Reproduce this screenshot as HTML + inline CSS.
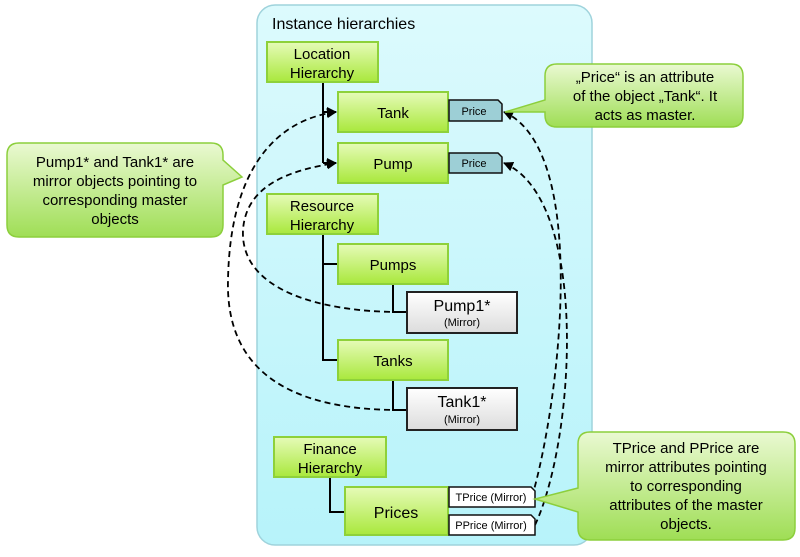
<!DOCTYPE html>
<html><head><meta charset="utf-8"><style>
body{margin:0;width:800px;height:552px;background:#fff;overflow:hidden}
text{font-family:"Liberation Sans",sans-serif}
</style></head><body>
<svg width="800" height="552" viewBox="0 0 800 552" xmlns="http://www.w3.org/2000/svg">
<defs>
<linearGradient id="g" x1="0" y1="0" x2="0" y2="1"><stop offset="0" stop-color="#e6fbb8"/><stop offset="1" stop-color="#a9e83c"/></linearGradient>
<linearGradient id="c" x1="0" y1="0" x2="0" y2="1"><stop offset="0" stop-color="#eaf9d2"/><stop offset="1" stop-color="#9fde55"/></linearGradient>
<linearGradient id="w" x1="0" y1="0" x2="0" y2="1"><stop offset="0" stop-color="#ffffff"/><stop offset="1" stop-color="#dcdcdc"/></linearGradient>
<linearGradient id="p" x1="0" y1="0" x2="0" y2="1"><stop offset="0" stop-color="#dcfafd"/><stop offset="1" stop-color="#b7f3fa"/></linearGradient>
<marker id="a" markerWidth="10" markerHeight="10" refX="9" refY="5" orient="auto" markerUnits="userSpaceOnUse"><path d="M0,0 L10,5 L0,10 z" fill="#000"/></marker>
</defs>
<rect x="257" y="5" width="335" height="540" rx="18" fill="url(#p)" stroke="#9fd3dc" stroke-width="1.5"/>
<text x="272" y="29" font-size="16">Instance hierarchies</text>

<g stroke="#000" stroke-width="2" fill="none">
<path d="M323 82 V163"/>
<path d="M323 112 H336" marker-end="url(#a)"/>
<path d="M323 163 H336" marker-end="url(#a)"/>
<path d="M323 234 V360 H338 M323 264 H338"/>
<path d="M393 284 V312 H407 M393 380 V410 H407"/>
<path d="M330 477 V512 H345"/>
</g>

<g stroke="#000" stroke-width="1.8" fill="none" stroke-dasharray="6,4">
<path d="M400 410 C320 410 225 390 228 280 C230 170 275 120 336 112" marker-end="url(#a)"/>
<path d="M400 312 C320 312 240 290 243 230 C246 185 290 170 336 163" marker-end="url(#a)"/>
<path d="M532 497 C560 400 590 150 504 112" marker-end="url(#a)"/>
<path d="M535 525 C575 440 590 200 504 163" marker-end="url(#a)"/>
</g>

<g stroke="#8ed13a" stroke-width="2" fill="url(#g)">
<rect x="267" y="42" width="111" height="40"/>
<rect x="338" y="92" width="110" height="40"/>
<rect x="338" y="143" width="110" height="40"/>
<rect x="267" y="194" width="111" height="40"/>
<rect x="338" y="244" width="110" height="40"/>
<rect x="338" y="340" width="110" height="40"/>
<rect x="274" y="437" width="112" height="40"/>
<rect x="345" y="487" width="103" height="48"/>
</g>
<g stroke="#222" stroke-width="2" fill="url(#w)">
<rect x="407" y="292" width="110" height="41"/>
<rect x="407" y="388" width="110" height="42"/>
</g>
<g stroke="#111" stroke-width="1.5">
<path d="M449 100 H498 L502 104 V121 H449 Z" fill="#9dcfd6"/>
<path d="M449 153 H498 L502 157 V173 H449 Z" fill="#9dcfd6"/>
<path d="M449 487 H531 L535 491 V507 H449 Z" fill="#fff"/>
<path d="M449 515 H531 L535 519 V535 H449 Z" fill="#fff"/>
</g>
<g font-size="15" text-anchor="middle">
<text x="322" y="59">Location</text><text x="322" y="78">Hierarchy</text>
<text x="393" y="118">Tank</text>
<text x="393" y="169">Pump</text>
<text x="322" y="211">Resource</text><text x="322" y="230">Hierarchy</text>
<text x="393" y="270">Pumps</text>
<text x="393" y="366">Tanks</text>
<text x="330" y="454">Finance</text><text x="330" y="473">Hierarchy</text>
<text x="396" y="518" font-size="16">Prices</text>
<text x="462" y="311" font-size="16">Pump1*</text>
<text x="462" y="407" font-size="16">Tank1*</text>
</g>
<g font-size="11" text-anchor="middle">
<text x="462" y="326">(Mirror)</text>
<text x="462" y="423">(Mirror)</text>
<text x="474" y="115">Price</text>
<text x="474" y="167">Price</text>
<text x="491" y="501">TPrice (Mirror)</text>
<text x="491" y="529">PPrice (Mirror)</text>
</g>

<g stroke="#8ccf3c" stroke-width="1.5" fill="url(#c)">
<path d="M19 143 H211 Q223 143 223 155 V160 L242 177 L223 185 V225 Q223 237 211 237 H19 Q7 237 7 225 V155 Q7 143 19 143 Z"/>
<path d="M557 64 H731 Q743 64 743 76 V115 Q743 127 731 127 H557 Q545 127 545 115 V112 L505 112 L545 100 V76 Q545 64 557 64 Z"/>
<path d="M590 432 H783 Q795 432 795 444 V528 Q795 540 783 540 H590 Q578 540 578 528 V512 L535 499 L578 488 V444 Q578 432 590 432 Z"/>
</g>
<g font-size="15" text-anchor="middle">
<text x="115" y="167">Pump1* and Tank1* are</text>
<text x="115" y="186">mirror objects pointing to</text>
<text x="115" y="205">corresponding master</text>
<text x="115" y="224">objects</text>
<text x="645" y="82">„Price“ is an attribute</text>
<text x="645" y="101">of the object „Tank“. It</text>
<text x="645" y="120">acts as master.</text>
<text x="686" y="453">TPrice and PPrice are</text>
<text x="686" y="472">mirror attributes pointing</text>
<text x="686" y="491">to corresponding</text>
<text x="686" y="510">attributes of the master</text>
<text x="686" y="529">objects.</text>
</g>
</svg>
</body></html>
